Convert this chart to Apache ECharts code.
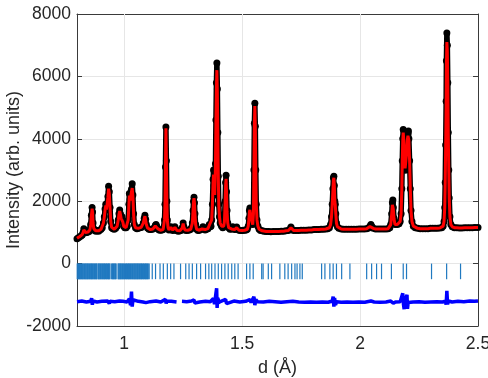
<!DOCTYPE html>
<html lang="en">
<head>
    <meta charset="utf-8">
    <title>Rietveld fit</title>
    <script type="text/javascript" src="https://cdn.jsdelivr.net/npm/echarts@6.0.0/dist/echarts.min.js"></script>
    <style>
        html, body {
            margin: 0;
            padding: 0;
            background: #fff;
        }
    </style>
</head>
<body>
<div id="main" style="width: 488px;height:378px;"></div>
<script>
    // observed / calculated profile, same d positions
    var dObs = [
        0.800, 0.806, 0.812, 0.818, 0.822, 0.826, 0.829, 0.832, 0.836, 0.841,
        0.846, 0.851, 0.855, 0.858, 0.861, 0.864, 0.866, 0.868, 0.871, 0.875,
        0.880, 0.886, 0.891, 0.896, 0.902, 0.907, 0.912, 0.916, 0.919, 0.922,
        0.925, 0.928, 0.931, 0.934, 0.937, 0.940, 0.943, 0.947, 0.952, 0.958,
        0.964, 0.970, 0.975, 0.978, 0.981, 0.984, 0.987, 0.991, 0.994, 0.998,
        1.003, 1.008, 1.013, 1.017, 1.020, 1.022, 1.025, 1.028, 1.031, 1.034,
        1.037, 1.040, 1.043, 1.048, 1.054, 1.060, 1.066, 1.072, 1.077, 1.081,
        1.085, 1.088, 1.091, 1.094, 1.099, 1.105, 1.111, 1.117, 1.122, 1.128,
        1.132, 1.135, 1.138, 1.142, 1.148, 1.154, 1.160, 1.165, 1.168, 1.171,
        1.173, 1.175, 1.177, 1.179, 1.181, 1.183, 1.186, 1.190, 1.195, 1.198,
        1.201, 1.206, 1.212, 1.215, 1.218, 1.224, 1.230, 1.236, 1.242, 1.246,
        1.250, 1.253, 1.258, 1.264, 1.270, 1.276, 1.282, 1.286, 1.289, 1.292,
        1.294, 1.296, 1.298, 1.300, 1.303, 1.307, 1.313, 1.319, 1.325, 1.330,
        1.334, 1.338, 1.343, 1.349, 1.355, 1.358, 1.361, 1.364, 1.368, 1.371,
        1.374, 1.377, 1.379, 1.381, 1.384, 1.387, 1.389, 1.391, 1.393, 1.395,
        1.397, 1.399, 1.401, 1.404, 1.407, 1.410, 1.413, 1.418, 1.422, 1.425,
        1.428, 1.430, 1.432, 1.434, 1.436, 1.439, 1.443, 1.449, 1.455, 1.460,
        1.463, 1.468, 1.473, 1.477, 1.481, 1.487, 1.493, 1.499, 1.505, 1.511,
        1.517, 1.522, 1.526, 1.529, 1.531, 1.533, 1.536, 1.539, 1.542, 1.545,
        1.548, 1.550, 1.552, 1.554, 1.556, 1.558, 1.560, 1.563, 1.567, 1.572,
        1.578, 1.585, 1.593, 1.602, 1.612, 1.622, 1.633, 1.644, 1.655, 1.666,
        1.676, 1.686, 1.696, 1.703, 1.707, 1.711, 1.718, 1.728, 1.739, 1.750,
        1.761, 1.772, 1.783, 1.794, 1.805, 1.815, 1.825, 1.835, 1.845, 1.855,
        1.863, 1.870, 1.875, 1.879, 1.882, 1.885, 1.887, 1.889, 1.891, 1.893,
        1.895, 1.897, 1.900, 1.904, 1.910, 1.920, 1.930, 1.941, 1.952, 1.963,
        1.974, 1.985, 1.996, 2.007, 2.018, 2.028, 2.036, 2.042, 2.046, 2.050,
        2.056, 2.066, 2.077, 2.088, 2.099, 2.110, 2.119, 2.126, 2.130, 2.134,
        2.137, 2.139, 2.141, 2.144, 2.148, 2.153, 2.158, 2.165, 2.170, 2.174,
        2.177, 2.179, 2.181, 2.183, 2.185, 2.188, 2.191, 2.194, 2.197, 2.200,
        2.203, 2.205, 2.207, 2.210, 2.213, 2.216, 2.220, 2.226, 2.234, 2.244,
        2.255, 2.266, 2.277, 2.288, 2.298, 2.308, 2.318, 2.328, 2.338, 2.346,
        2.352, 2.356, 2.359, 2.361, 2.363, 2.365, 2.366, 2.368, 2.370, 2.372,
        2.374, 2.376, 2.378, 2.381, 2.385, 2.391, 2.400, 2.410, 2.421, 2.432,
        2.443, 2.454, 2.465, 2.476, 2.487, 2.500
    ];
    var iObs = [
        800, 830, 860, 890, 920, 1000, 1120, 1050, 990, 1000,
        1010, 1030, 1080, 1250, 1550, 1800, 1650, 1300, 1120, 1060,
        1040, 1060, 1040, 1070, 1100, 1150, 1300, 1500, 1750, 1900,
        1750, 1800, 2150, 2480, 2300, 1800, 1350, 1150, 1120, 1100,
        1130, 1200, 1400, 1600, 1720, 1600, 1450, 1500, 1350, 1200,
        1150, 1150, 1200, 1400, 1900, 2250, 2050, 2100, 2380, 2560,
        2200, 1600, 1250, 1150, 1120, 1130, 1150, 1160, 1200, 1300,
        1450, 1550, 1420, 1250, 1140, 1100, 1090, 1100, 1110, 1150,
        1220, 1250, 1200, 1120, 1080, 1070, 1080, 1090, 1150, 1400,
        1900, 3100, 4380, 3300, 2000, 1400, 1150, 1080, 1100, 1180,
        1120, 1060, 1080, 1180, 1100, 1050, 1040, 1050, 1070, 1150,
        1300, 1180, 1080, 1060, 1070, 1080, 1100, 1150, 1300, 1700,
        2000, 2130, 1950, 1600, 1250, 1100, 1060, 1070, 1090, 1120,
        1180, 1120, 1080, 1100, 1120, 1200, 1250, 1180, 1200, 1400,
        1900, 2700, 3000, 2500, 2200, 3200, 4600, 5800, 6430, 5600,
        4200, 2800, 1900, 1500, 1300, 1250, 1200, 1150, 1200, 1350,
        2000, 2600, 2830, 2300, 1700, 1300, 1150, 1100, 1110, 1180,
        1140, 1090, 1100, 1170, 1100, 1070, 1060, 1060, 1070, 1070,
        1080, 1100, 1200, 1450, 1700, 1780, 1600, 1500, 1350, 1250,
        1600, 3000, 4500, 5140, 4400, 3000, 1900, 1400, 1200, 1100,
        1060, 1050, 1040, 1030, 1030, 1020, 1030, 1030, 1030, 1040,
        1040, 1050, 1060, 1100, 1170, 1100, 1060, 1060, 1060, 1070,
        1070, 1070, 1080, 1080, 1090, 1090, 1090, 1100, 1100, 1110,
        1120, 1150, 1250, 1500, 1900, 2400, 2750, 2800, 2500, 2000,
        1900, 1600, 1300, 1180, 1130, 1110, 1100, 1100, 1100, 1100,
        1100, 1100, 1110, 1110, 1110, 1120, 1140, 1200, 1250, 1190,
        1130, 1110, 1110, 1110, 1110, 1110, 1120, 1150, 1250, 1600,
        1950, 2040, 1800, 1450, 1250, 1300, 1250, 1280, 1350, 1600,
        2400, 3300, 4000, 4300, 4050, 3500, 3000, 3000, 3500, 4000,
        4180, 4250, 4000, 3300, 2400, 1700, 1350, 1200, 1150, 1130,
        1120, 1120, 1120, 1120, 1130, 1130, 1130, 1130, 1140, 1150,
        1200, 1350, 1800, 2600, 3800, 5200, 6500, 7390, 7000, 5800,
        4200, 3000, 2100, 1500, 1250, 1180, 1150, 1150, 1140, 1140,
        1150, 1150, 1150, 1150, 1160, 1160
    ];
    var iCalc = [
        810, 840, 870, 900, 930, 1000, 1080, 1040, 1000, 1000,
        1010, 1030, 1080, 1240, 1530, 1760, 1640, 1300, 1120, 1060,
        1050, 1050, 1050, 1070, 1100, 1150, 1300, 1500, 1720, 1860,
        1730, 1780, 2120, 2400, 2250, 1780, 1350, 1160, 1110, 1100,
        1130, 1200, 1400, 1580, 1680, 1580, 1450, 1470, 1340, 1200,
        1150, 1150, 1200, 1400, 1880, 2180, 2020, 2060, 2300, 2420,
        2150, 1580, 1250, 1150, 1120, 1130, 1150, 1160, 1200, 1300,
        1440, 1520, 1400, 1250, 1140, 1100, 1090, 1100, 1110, 1150,
        1210, 1240, 1190, 1120, 1080, 1070, 1080, 1090, 1150, 1400,
        1900, 3100, 4340, 3300, 2000, 1400, 1150, 1080, 1100, 1160,
        1110, 1070, 1080, 1160, 1100, 1060, 1050, 1050, 1070, 1140,
        1280, 1170, 1080, 1070, 1070, 1080, 1100, 1150, 1300, 1700,
        1980, 2100, 1940, 1600, 1250, 1100, 1070, 1070, 1090, 1110,
        1160, 1120, 1090, 1100, 1120, 1180, 1230, 1180, 1200, 1400,
        1880, 2600, 2850, 2450, 2200, 3150, 4500, 5600, 6200, 5500,
        4150, 2800, 1900, 1500, 1300, 1250, 1200, 1160, 1200, 1340,
        1950, 2500, 2720, 2250, 1680, 1300, 1150, 1100, 1110, 1160,
        1140, 1090, 1100, 1150, 1100, 1070, 1060, 1060, 1070, 1070,
        1080, 1100, 1200, 1430, 1650, 1720, 1580, 1480, 1340, 1250,
        1600, 2950, 4450, 5050, 4350, 2980, 1900, 1400, 1200, 1100,
        1060, 1050, 1040, 1030, 1030, 1030, 1030, 1030, 1030, 1040,
        1040, 1050, 1060, 1090, 1150, 1100, 1060, 1060, 1060, 1070,
        1070, 1070, 1080, 1080, 1090, 1090, 1090, 1100, 1100, 1110,
        1120, 1150, 1250, 1500, 1900, 2350, 2680, 2750, 2480, 2000,
        1880, 1600, 1300, 1180, 1130, 1110, 1100, 1100, 1100, 1100,
        1100, 1100, 1110, 1110, 1110, 1120, 1140, 1190, 1230, 1180,
        1130, 1110, 1110, 1110, 1110, 1110, 1120, 1150, 1250, 1580,
        1880, 1920, 1750, 1430, 1250, 1290, 1250, 1280, 1350, 1600,
        2400, 3300, 3950, 4200, 4000, 3500, 3050, 3050, 3500, 3950,
        4100, 4150, 3950, 3300, 2400, 1700, 1350, 1200, 1150, 1130,
        1120, 1120, 1120, 1120, 1130, 1130, 1130, 1130, 1140, 1150,
        1200, 1350, 1800, 2600, 3800, 5100, 6300, 7100, 6800, 5700,
        4150, 3000, 2100, 1500, 1250, 1180, 1150, 1150, 1140, 1140,
        1150, 1150, 1150, 1150, 1160, 1160
    ];

    // difference curve (already offset), null = excluded region
    var dDiff = [
        0.800, 0.820, 0.840, 0.858, 0.862, 0.865, 0.868, 0.885, 0.905, 0.930,
        0.934, 0.937, 0.940, 0.960, 0.980, 0.984, 0.995, 1.012, 1.022, 1.027,
        1.031, 1.034, 1.037, 1.041, 1.060, 1.080, 1.088, 1.092, 1.110, 1.135,
        1.155, 1.175, 1.178, 1.181, 1.200, 1.222, 1.234, 1.245, 1.265, 1.285,
        1.296, 1.299, 1.320, 1.345, 1.365, 1.378, 1.383, 1.389, 1.392, 1.394,
        1.397, 1.401, 1.410, 1.430, 1.434, 1.440, 1.465, 1.490, 1.515, 1.533,
        1.538, 1.550, 1.554, 1.558, 1.565, 1.590, 1.615, 1.640, 1.665, 1.690,
        1.715, 1.740, 1.765, 1.790, 1.815, 1.840, 1.865, 1.882, 1.886, 1.889,
        1.892, 1.896, 1.900, 1.920, 1.945, 1.970, 1.995, 2.020, 2.046, 2.060,
        2.085, 2.110, 2.130, 2.136, 2.141, 2.150, 2.170, 2.177, 2.181, 2.184,
        2.187, 2.190, 2.196, 2.199, 2.201, 2.204, 2.210, 2.225, 2.250, 2.275,
        2.300, 2.325, 2.350, 2.362, 2.365, 2.368, 2.371, 2.375, 2.390, 2.415,
        2.440, 2.465, 2.485, 2.500
    ];
    var iDiff = [
        -1220, -1200, -1230, -1210, -1110, -1320, -1200, -1230, -1210, -1200,
        -1140, -1280, -1210, -1220, -1200, -1260, -1210, -1230, -1130, -1330,
        -900, -1380, -1160, -1220, -1210, -1230, -1170, -1250, -1220, -1200,
        -1230, -1140, -1280, -1200, -1210, -1230, null, -1210, -1220, -1200,
        -1160, -1260, -1230, -1210, -1220, -1120, -1300, -950, -790, -1420,
        -1100, -1250, -1210, -1150, -1280, -1220, -1200, -1230, -1210, -1150,
        -1250, -1060, -1330, -1150, -1220, -1230, -1210, -1220, -1240, -1220,
        -1210, -1230, -1240, -1230, -1240, -1230, -1240, -1200, -1060, -1380,
        -1100, -1330, -1220, -1240, -1230, -1240, -1230, -1240, -1200, -1230,
        -1240, -1230, -1200, -1140, -1270, -1230, -1220, -1160, -950, -1300,
        -1460, -1200, -1150, -1000, -1450, -1250, -1200, -1230, -1220, -1240,
        -1230, -1220, -1230, -1200, -1320, -870, -1300, -1200, -1230, -1210,
        -1220, -1200, -1210, -1200
    ];

    // reflection positions, drawn from 0 down to tickLow
    var tickPos = [
        0.801, 0.804, 0.806, 0.809, 0.811, 0.814, 0.816, 0.819, 0.821, 0.824,
        0.826, 0.829, 0.832, 0.834, 0.837, 0.839, 0.842, 0.845, 0.847, 0.850,
        0.853, 0.855, 0.858, 0.861, 0.863, 0.866, 0.868, 0.871, 0.874, 0.876,
        0.879, 0.882, 0.884, 0.889, 0.892, 0.894, 0.897, 0.900, 0.902, 0.905,
        0.908, 0.910, 0.913, 0.916, 0.918, 0.921, 0.924, 0.926, 0.929, 0.932,
        0.934, 0.937, 0.940, 0.947, 0.950, 0.953, 0.955, 0.958, 0.961, 0.963,
        0.966, 0.974, 0.977, 0.979, 0.982, 0.985, 0.987, 0.990, 0.993, 0.995,
        0.998, 1.001, 1.003, 1.006, 1.009, 1.011, 1.014, 1.017, 1.019, 1.022,
        1.025, 1.027, 1.030, 1.033, 1.035, 1.038, 1.041, 1.043, 1.046, 1.049,
        1.051, 1.054, 1.057, 1.059, 1.062, 1.065, 1.067, 1.070, 1.073, 1.075,
        1.078, 1.081, 1.083, 1.086, 1.089, 1.091, 1.094, 1.097, 1.099, 1.102,
        1.106, 1.119, 1.133, 1.152, 1.166, 1.183, 1.197, 1.211, 1.239, 1.261,
        1.275, 1.289, 1.307, 1.324, 1.345, 1.359, 1.371, 1.385, 1.399, 1.413,
        1.427, 1.441, 1.456, 1.469, 1.483, 1.519, 1.533, 1.547, 1.583, 1.589,
        1.611, 1.625, 1.660, 1.681, 1.695, 1.710, 1.724, 1.733, 1.745, 1.755,
        1.837, 1.851, 1.872, 1.886, 1.900, 1.922, 1.957, 2.028, 2.049, 2.070,
        2.091, 2.133, 2.183, 2.197, 2.303, 2.367, 2.426
    ];
    var tickTop = 0;
    var tickLow = -500;

    var xTickVals = [1, 1.5, 2, 2.5];
    var xGridVals = [1, 1.5, 2];

    var obsData = dObs.map(function (d, i) { return [d, iObs[i]]; });
    var calcData = dObs.map(function (d, i) { return [d, iCalc[i]]; });
    var diffData = dDiff.map(function (d, i) { return [d, iDiff[i] === null ? '-' : iDiff[i]]; });
    var tickData = tickPos.map(function (d) { return [d, tickTop]; });

    var font = "'Liberation Sans', Arial, Helvetica, sans-serif";
    var axisCol = '#3a3a3a';
    var txtCol = '#262626';

    var myChart = echarts.init(document.getElementById('main'));
    var option = {
        animation: false,
        backgroundColor: '#fff',
        grid: {left: 77, right: 10, top: 14, bottom: 52, containLabel: false, outerBoundsMode: 'none'},
        xAxis: [{
            type: 'value',
            min: 0.8,
            max: 2.5,
            name: 'd (Å)',
            nameLocation: 'middle',
            nameGap: 33,
            nameMoveOverlap: false,
            nameTextStyle: {fontFamily: font, fontSize: 18, color: txtCol},
            axisLine: {show: true, onZero: false, lineStyle: {color: axisCol, width: 1}},
            axisTick: {show: true, inside: true, length: 5, customValues: xTickVals, lineStyle: {color: axisCol}},
            axisLabel: {customValues: xTickVals, showMaxLabel: true, margin: 9, fontFamily: font, fontSize: 17.5, color: txtCol},
            splitLine: {show: false}
        }, {
            type: 'value',
            position: 'top',
            min: 0.8,
            max: 2.5,
            axisLine: {show: true, onZero: false, lineStyle: {color: axisCol, width: 1}},
            axisTick: {show: true, inside: true, length: 5, customValues: xTickVals, lineStyle: {color: axisCol}},
            axisLabel: {show: false},
            splitLine: {show: false}
        }],
        yAxis: [{
            type: 'value',
            min: -2000,
            max: 8000,
            interval: 2000,
            name: 'Intensity (arb. units)',
            nameLocation: 'middle',
            nameGap: 54,
            nameMoveOverlap: false,
            nameTextStyle: {fontFamily: font, fontSize: 18, color: txtCol},
            axisLine: {show: true, onZero: false, lineStyle: {color: axisCol, width: 1}},
            axisTick: {show: true, inside: true, length: 5, lineStyle: {color: axisCol}},
            axisLabel: {
                margin: 6, fontFamily: font, fontSize: 17.5, color: txtCol,
                formatter: function (v) { return String(v); }
            },
            splitLine: {show: true, lineStyle: {color: '#e6e6e6', width: 1}}
        }, {
            type: 'value',
            position: 'right',
            min: -2000,
            max: 8000,
            interval: 2000,
            axisLine: {show: true, onZero: false, lineStyle: {color: axisCol, width: 1}},
            axisTick: {show: true, inside: true, length: 5, lineStyle: {color: axisCol}},
            axisLabel: {show: false},
            splitLine: {show: false}
        }],
        series: [
            {
                // vertical grid lines at the labelled d values
                type: 'line',
                data: [],
                z: 1,
                markLine: {
                    silent: true,
                    symbol: 'none',
                    z: 1,
                    label: {show: false},
                    lineStyle: {color: '#e6e6e6', width: 1, type: 'solid'},
                    data: xGridVals.map(function (v) { return {xAxis: v}; })
                }
            },
            {
                name: 'reflections',
                type: 'custom',
                z: 2,
                data: tickData,
                renderItem: function (params, api) {
                    var p0 = api.coord([api.value(0), tickTop]);
                    var p1 = api.coord([api.value(0), tickLow]);
                    return {
                        type: 'line',
                        shape: {x1: p0[0], y1: p0[1], x2: p1[0], y2: p1[1]},
                        style: {stroke: '#2079c0', lineWidth: 1.2}
                    };
                }
            },
            {
                name: 'diff',
                type: 'line',
                z: 3,
                data: diffData,
                connectNulls: false,
                symbol: 'none',
                lineStyle: {color: '#0000ff', width: 3.5}
            },
            {
                name: 'obs',
                type: 'line',
                z: 4,
                data: obsData,
                symbol: 'circle',
                symbolSize: 7,
                showSymbol: true,
                showAllSymbol: true,
                itemStyle: {color: '#000'},
                lineStyle: {color: '#000', width: 5.5}
            },
            {
                name: 'calc',
                type: 'line',
                z: 5,
                data: calcData,
                symbol: 'none',
                lineStyle: {color: '#ff0000', width: 3}
            }
        ]
    };
    myChart.setOption(option);
</script>
</body>
</html>
